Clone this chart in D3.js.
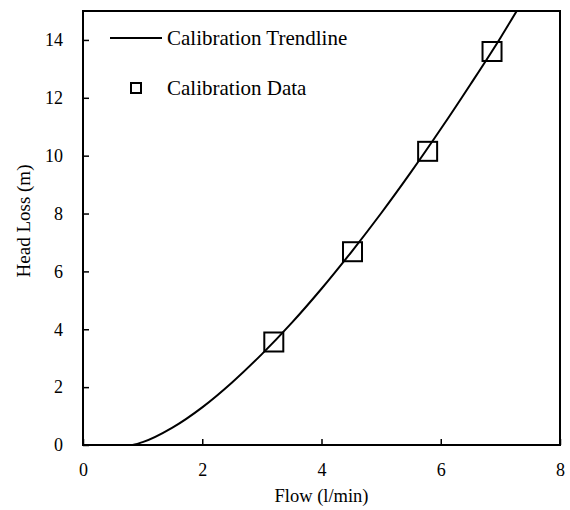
<!DOCTYPE html>
<html>
<head>
<meta charset="utf-8">
<script src="https://cdn.jsdelivr.net/npm/d3@7"></script>
<style>
  body { margin: 0; background: #fff; }
</style>
</head>
<body>
<script>
// calibration measurements (flow l/min, head loss m)
const dataFlow = [3.2, 4.52, 5.78, 6.86];
const dataHead = [3.56, 6.68, 10.15, 13.6];

// trendline
const trendFlow = [0, 0.4, 0.8, 1.0, 1.5, 2.0, 2.5, 3.0, 3.5, 4.0, 4.5, 5.0, 5.5, 6.0, 6.5, 7.0, 7.3];
const trendHead = [0, 0, 0, 0.1, 0.6, 1.3, 2.16, 3.14, 4.22, 5.4, 6.67, 8.01, 9.43, 10.92, 12.47, 14.07, 15.09];

const xTicks = [0, 2, 4, 6, 8];
const yTicks = [0, 2, 4, 6, 8, 10, 12, 14];

const width = 570, height = 510;
const margin = { top: 11, right: 10, bottom: 65, left: 83 };
const serif = "'Liberation Serif', 'Times New Roman', Times, serif";

const svg = d3.select("body")
    .append("svg")
    .attr("width", width)
    .attr("height", height)
    .attr("font-family", serif);

const x = d3.scaleLinear()
    .domain([0, 8])
    .range([margin.left, width - margin.right]);

const y = d3.scaleLinear()
    .domain([0, 15])
    .range([height - margin.bottom, margin.top]);

// clip so the trendline stops at the frame
svg.append("clipPath").attr("id", "plot")
  .append("rect")
    .attr("x", x(0)).attr("y", y(15))
    .attr("width", x(8) - x(0)).attr("height", y(0) - y(15));

// axes with inward ticks
const xAxis = svg.append("g")
    .attr("transform", `translate(0,${y(0)})`)
    .call(d3.axisBottom(x).tickValues(xTicks).tickSizeInner(-6).tickSizeOuter(0).tickPadding(18));

const yAxis = svg.append("g")
    .attr("transform", `translate(${x(0)},0)`)
    .call(d3.axisLeft(y).tickValues(yTicks).tickSizeInner(-6).tickSizeOuter(0).tickPadding(20));

[xAxis, yAxis].forEach(g => {
  g.attr("font-family", serif);
  g.select(".domain").remove();
  g.selectAll("line").attr("stroke", "#000").attr("stroke-width", 1.5);
  g.selectAll("text")
    .style("font-family", serif)
    .style("font-size", "18px")
    .attr("fill", "#000");
});

// frame
svg.append("rect")
    .attr("x", x(0)).attr("y", y(15))
    .attr("width", x(8) - x(0)).attr("height", y(0) - y(15))
    .attr("fill", "none").attr("stroke", "#000").attr("stroke-width", 2);

// trendline
const line = d3.line()
    .x(d => x(d[0]))
    .y(d => y(d[1]))
    .curve(d3.curveMonotoneX);

svg.append("path")
    .datum(d3.zip(trendFlow, trendHead))
    .attr("clip-path", "url(#plot)")
    .attr("d", line)
    .attr("fill", "none")
    .attr("stroke", "#000")
    .attr("stroke-width", 2);

// calibration points
const sq = 19;
svg.selectAll("rect.pt")
    .data(d3.zip(dataFlow, dataHead))
    .enter()
    .append("rect")
    .attr("class", "pt")
    .attr("x", d => x(d[0]) - sq / 2)
    .attr("y", d => y(d[1]) - sq / 2)
    .attr("width", sq).attr("height", sq)
    .attr("fill", "none").attr("stroke", "#000").attr("stroke-width", 2);

// legend
svg.append("line")
    .attr("x1", 110).attr("x2", 162)
    .attr("y1", 38).attr("y2", 38)
    .attr("stroke", "#000").attr("stroke-width", 2);
svg.append("text")
    .attr("x", 167).attr("y", 38).attr("dy", "0.35em")
    .style("font-family", serif)
    .style("font-size", "21px")
    .text("Calibration Trendline");

svg.append("rect")
    .attr("x", 131).attr("y", 83)
    .attr("width", 10).attr("height", 10)
    .attr("fill", "none").attr("stroke", "#000").attr("stroke-width", 2);
svg.append("text")
    .attr("x", 167).attr("y", 88).attr("dy", "0.35em")
    .style("font-family", serif)
    .style("font-size", "21px")
    .text("Calibration Data");

// axis titles
svg.append("text")
    .attr("x", (x(0) + x(8)) / 2).attr("y", 502)
    .attr("text-anchor", "middle")
    .style("font-family", serif)
    .style("font-size", "18.5px")
    .text("Flow (l/min)");

svg.append("text")
    .attr("transform", `translate(30,221) rotate(-90)`)
    .attr("text-anchor", "middle")
    .style("font-family", serif)
    .style("font-size", "19px")
    .text("Head Loss (m)");
</script>
</body>
</html>
